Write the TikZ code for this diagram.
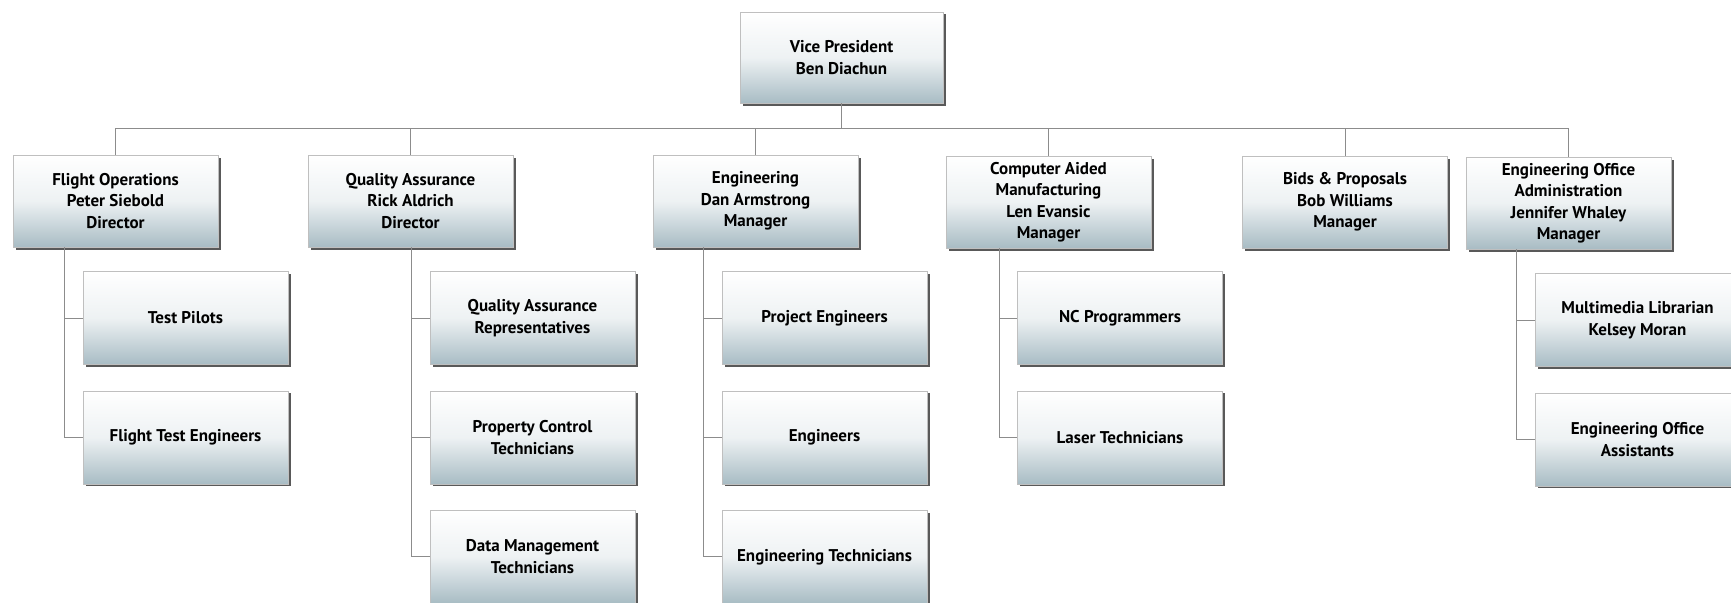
\documentclass[tikz,border=0pt]{standalone}
\usepackage{fontspec}
\setmainfont{PT Sans}
\usetikzlibrary{positioning,shadows}

\definecolor{boxbot}{RGB}{168,188,196}

\begin{document}
\begin{tikzpicture}[
x=1pt, y=-1pt,
node distance=26pt,
box/.style={rectangle, draw=black!25, top color=white, bottom color=boxbot, middle color=white!80!boxbot, drop shadow={shadow xshift=2.5pt, shadow yshift=-2.5pt, fill=black!65, opacity=1}, font=\bfseries\fontsize{17}{21.5}\selectfont, align=center, inner sep=2pt},
jefe/.style={box, minimum width=203pt, minimum height=91pt},
area/.style={box, minimum width=205pt, minimum height=92pt},
grupo/.style={box, minimum width=205pt, minimum height=93pt},
linea/.style={draw=black!45, line width=1pt},
]
\useasboundingbox (0,0) rectangle (1731,602);

%Nodes
\node[jefe]      (vp)          at (841.5,57.5)       {Vice President\\Ben Diachun};

\node[area]      (area_1)      at (115.5,201)        {Flight Operations\\Peter Siebold\\Director};
\node[area]      (area_2)      at (410.5,201)        {Quality Assurance\\Rick Aldrich\\Director};
\node[area]      (area_3)      at (755.5,201)        {Engineering\\Dan Armstrong\\Manager};
\node[area]      (area_4)      at (1048.5,202)       {Computer Aided\\Manufacturing\\Len Evansic\\Manager};
\node[area]      (area_5)      at (1345,202)         {Bids \& Proposals\\Bob Williams\\Manager};
\node[area]      (area_6)      at (1568.5,203)       {Engineering Office\\Administration\\Jennifer Whaley\\Manager};

\node[grupo]     (grupo_1_1)   at (185.5,318)        {Test Pilots};
\node[grupo]     (grupo_1_2)   [below=of grupo_1_1]  {Flight Test Engineers};

\node[grupo]     (grupo_2_1)   at (532.5,318)        {Quality Assurance\\Representatives};
\node[grupo]     (grupo_2_2)   [below=of grupo_2_1]  {Property Control\\Technicians};
\node[grupo]     (grupo_2_3)   [below=of grupo_2_2]  {Data Management\\Technicians};

\node[grupo]     (grupo_3_1)   at (824.5,318)        {Project Engineers};
\node[grupo]     (grupo_3_2)   [below=of grupo_3_1]  {Engineers};
\node[grupo]     (grupo_3_3)   [below=of grupo_3_2]  {Engineering Technicians};

\node[grupo]     (grupo_4_1)   at (1120,318)         {NC Programmers};
\node[grupo]     (grupo_4_2)   [below=of grupo_4_1]  {Laser Technicians};

\node[grupo]     (grupo_6_1)   at (1637.5,320)       {Multimedia Librarian\\Kelsey Moran};
\node[grupo]     (grupo_6_2)   [below=of grupo_6_1]  {Engineering Office\\Assistants};

%Lines
\coordinate (bus) at ([yshift=-25pt]vp.south);
\draw[linea] (vp.south) -- (bus);
\draw[linea] (area_1.north) |- (bus) -| (area_6.north);
\draw[linea] (bus -| area_2.north) -- (area_2.north);
\draw[linea] (bus -| area_3.north) -- (area_3.north);
\draw[linea] (bus -| area_4.north) -- (area_4.north);
\draw[linea] (bus -| area_5.north) -- (area_5.north);

\draw[linea] (area_1.south -| grupo_1_1.west) ++(-18,0) |- (grupo_1_1.west);
\draw[linea] (area_1.south -| grupo_1_2.west) ++(-18,0) |- (grupo_1_2.west);
\draw[linea] (area_2.south -| grupo_2_1.west) ++(-18,0) |- (grupo_2_1.west);
\draw[linea] (area_2.south -| grupo_2_2.west) ++(-18,0) |- (grupo_2_2.west);
\draw[linea] (area_2.south -| grupo_2_3.west) ++(-18,0) |- (grupo_2_3.west);
\draw[linea] (area_3.south -| grupo_3_1.west) ++(-18,0) |- (grupo_3_1.west);
\draw[linea] (area_3.south -| grupo_3_2.west) ++(-18,0) |- (grupo_3_2.west);
\draw[linea] (area_3.south -| grupo_3_3.west) ++(-18,0) |- (grupo_3_3.west);
\draw[linea] (area_4.south -| grupo_4_1.west) ++(-18,0) |- (grupo_4_1.west);
\draw[linea] (area_4.south -| grupo_4_2.west) ++(-18,0) |- (grupo_4_2.west);
\draw[linea] (area_6.south -| grupo_6_1.west) ++(-18,0) |- (grupo_6_1.west);
\draw[linea] (area_6.south -| grupo_6_2.west) ++(-18,0) |- (grupo_6_2.west);

\end{tikzpicture}
\end{document}
